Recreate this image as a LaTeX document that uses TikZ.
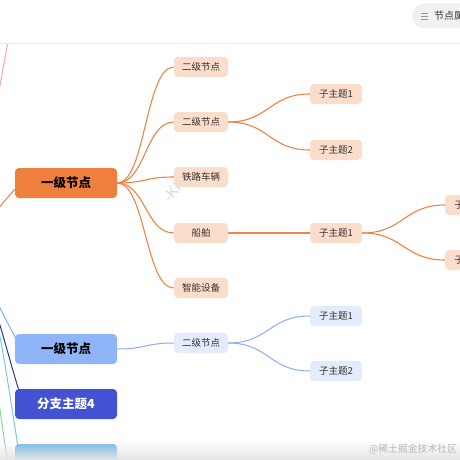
\documentclass[tikz,border=0pt]{standalone}
\usepackage{fontspec}
\newfontfamily\cjk{Noto Sans CJK SC}
\usetikzlibrary{calc,backgrounds,fadings}
\definecolor{mmOrange}{HTML}{EF7F3D}
\definecolor{mmPeach}{HTML}{FBDDCC}
\definecolor{mmOLine}{HTML}{EE8445}
\definecolor{mmBlue}{HTML}{8FB5F8}
\definecolor{mmIce}{HTML}{E3EBFC}
\definecolor{mmBLine}{HTML}{8EAEEC}
\definecolor{mmIndigo}{HTML}{4351D3}
\definecolor{mmSky}{HTML}{6CB7E6}
\definecolor{mmNavy}{HTML}{2F3A9C}
\definecolor{mmCyan}{HTML}{7CC6EC}
\definecolor{mmGreen}{HTML}{8ED99A}
\definecolor{mmPink}{HTML}{F4A6B8}
\definecolor{mmPill}{HTML}{F0F1F3}
\definecolor{mmText}{HTML}{333333}

\begin{document}
\begin{tikzpicture}[x=1pt, y=-1pt,
  topic/.style={rounded corners=4pt, minimum width=102pt, minimum height=30pt, inner sep=0pt, font=\cjk\fontsize{12.5}{14}\selectfont\bfseries},
  subtopic/.style={rounded corners=4pt, minimum width=54pt, minimum height=20pt, inner sep=0pt, text=mmText, font=\cjk\fontsize{9.5}{11}\selectfont},
  leaf/.style={subtopic, minimum width=52pt},
  olink/.style={mmOLine, line width=1.1pt},
  blink/.style={mmBLine, line width=1pt},
  rootlink/.style={line width=1pt},
]
  \useasboundingbox (0,0) rectangle (460,460);
  \clip (0,0) rectangle (460,460);

  \node[text=black!16, font=\sffamily\fontsize{15}{16}\selectfont, rotate=50] (mark) at (179,184) {-Kitor-};

  % first level
  \node[topic, fill=mmOrange] (o) at (66,183) {一级节点};
  \node[topic, fill=mmBlue] (b) at (66,349) {一级节点};
  \node[topic, fill=mmIndigo, text=white] (t4) at (66,404) {分支主题4};
  \node[topic, fill=mmSky] (t5) at (66,459) {};

  % orange branch
  \foreach \n/\y/\t in {o1/67/二级节点, o2/122/二级节点, o3/177/铁路车辆, o4/233/船舶, o5/288/智能设备}
    \node[subtopic, fill=mmPeach] (\n) at (201,\y) {\t};
  \node[leaf, fill=mmPeach] (o2a) at (336,94) {子主题1};
  \node[leaf, fill=mmPeach] (o2b) at (336,150) {子主题2};
  \node[leaf, fill=mmPeach] (o4a) at (336,233) {子主题1};
  \node[leaf, fill=mmPeach, anchor=west] (o4a1) at (445,205) {子主题1};
  \node[leaf, fill=mmPeach, anchor=west] (o4a2) at (445,260) {子主题2};

  % blue branch
  \node[subtopic, fill=mmIce] (b1) at (201,343) {二级节点};
  \node[leaf, fill=mmIce] (b1a) at (336,316) {子主题1};
  \node[leaf, fill=mmIce] (b1b) at (336,371) {子主题2};

  \coordinate (root) at (-30,262);
  \coordinate (pinkend) at (12,20);
  \coordinate (greenend) at (15,500);

  \begin{scope}[on background layer]
    \fill[white] (0,0) rectangle (460,460);
    \foreach \s/\t in {o/o1,o/o2,o/o3,o/o4,o/o5,o2/o2a,o2/o2b,o4/o4a,o4a/o4a1,o4a/o4a2}
      \draw[olink] let \p1=(\s.east), \p2=(\t.west) in
        (\p1) .. controls ({(\x1+\x2)/2},\y1) and ({(\x1+\x2)/2},\y2) .. (\p2);
    \foreach \s/\t in {b/b1,b1/b1a,b1/b1b}
      \draw[blink] let \p1=(\s.east), \p2=(\t.west) in
        (\p1) .. controls ({(\x1+\x2)/2},\y1) and ({(\x1+\x2)/2},\y2) .. (\p2);
    % lines from the centre topic, off to the left
    \draw[rootlink, mmPink] (root) .. controls (-20,200) and (-5,110) .. (pinkend);
    \draw[rootlink, mmOLine] (root) .. controls (-25,240) and (-10,215) .. ($(o.west)+(7,-1)$);
    \draw[rootlink, mmBLine] (root) .. controls (-15,270) and (-8,295) .. ($(b.west)+(5,-3)$);
    \draw[rootlink, mmNavy] (root) .. controls (-10,275) and (0,330) .. ($(t4.west)+(7,-4)$);
    \draw[rootlink, mmCyan] (root) .. controls (-5,275) and (2,350) .. ($(t5.west)+(7,11)$);
    \draw[rootlink, mmGreen] (root) .. controls (-8,300) and (-3,420) .. (greenend);
  \end{scope}

  % toolbar
  \fill[white] (0,0) rectangle (460,43);
  \draw[black!7, line width=1.5pt] (0,43.5) -- (460,43.5);
  \node[fill=mmPill, rounded corners=12pt, minimum height=25pt, minimum width=80pt, anchor=west] (menu) at (412,16) {};
  \foreach \dy in {-3,0,3}
    \draw[black!40, line width=0.8pt] (421,16+\dy) -- (428,16+\dy);
  \node[anchor=west, inner sep=0pt, text=mmText, font=\cjk\fontsize{10}{12}\selectfont] (menulabel) at (434,16) {节点属性};

  % bottom
  \fill[black!10, path fading=north] (0,440) rectangle (460,460);
  \node[anchor=east, inner sep=0pt, text=black!28, font=\cjk\fontsize{9.8}{11}\selectfont] (credit) at (457,449) {@稀土掘金技术社区};
\end{tikzpicture}
\end{document}
